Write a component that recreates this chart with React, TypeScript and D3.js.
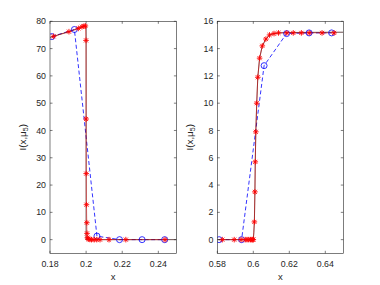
import React from "react";
import * as d3 from "d3";

// ---- Data ----
// Left panel (shock near x = 0.2)
const leftExactX = [0.18, 0.182, 0.1905, 0.1957, 0.1977, 0.1988, 0.1996, 0.2, 0.2, 0.25];
const leftExactY = [74.1, 74.5, 76.2, 77.4, 78.0, 78.2, 78.3, 78.3, 0, 0];

const leftAdaptX = [0.182, 0.1905, 0.1957, 0.1977, 0.1988, 0.1996, 0.19995, 0.2, 0.20005, 0.2002, 0.2004, 0.2005, 0.2007, 0.2012, 0.2021, 0.203, 0.2045, 0.2059, 0.2077, 0.2127, 0.222, 0.2437];
const leftAdaptY = [74.5, 76.2, 77.4, 78.0, 78.2, 78.3, 73.0, 44.2, 24.2, 12.8, 6.2, 2.3, 0.7, 0.2, 0.1, 0, 0, 0, 0, 0, 0, 0];

const leftCoarseX = [0.181, 0.1935, 0.206, 0.2185, 0.231, 0.2435];
const leftCoarseY = [74.4, 77.0, 1.3, 0.0, 0.0, 0.0];

// Right panel (rise near x = 0.6)
const rightExactX = [0.58, 0.6, 0.6003, 0.6006, 0.6009, 0.6011, 0.6014, 0.6019, 0.6025, 0.6035, 0.605, 0.607, 0.609, 0.6115, 0.614, 0.62, 0.65];
const rightExactY = [0, 0, 0.5, 1.3, 3.5, 5.7, 7.9, 10.0, 11.9, 13.3, 14.2, 14.7, 15.0, 15.1, 15.15, 15.18, 15.2];

const rightAdaptX = [0.5828, 0.5894, 0.5932, 0.5955, 0.5965, 0.5975, 0.5985, 0.5992, 0.5997, 0.6, 0.6006, 0.6009, 0.6011, 0.6014, 0.6019, 0.6025, 0.6035, 0.605, 0.607, 0.609, 0.6115, 0.614, 0.6186, 0.6222, 0.6267, 0.6311, 0.6382, 0.6449];
const rightAdaptY = [0, 0, 0, 0, 0, 0, 0, 0, 0, 0, 1.3, 3.5, 5.7, 7.9, 10.0, 11.9, 13.3, 14.2, 14.7, 15.0, 15.1, 15.15, 15.15, 15.15, 15.15, 15.15, 15.15, 15.15];

const rightCoarseX = [0.581, 0.5935, 0.606, 0.6185, 0.631, 0.6435];
const rightCoarseY = [0, 0, 12.75, 15.1, 15.15, 15.15];

const leftXTicks = [0.18, 0.2, 0.22, 0.24];
const leftYTicks = [0, 10, 20, 30, 40, 50, 60, 70, 80];
const rightXTicks = [0.58, 0.6, 0.62, 0.64];
const rightYTicks = [0, 2, 4, 6, 8, 10, 12, 14, 16];

const FONT = "'Liberation Sans', Arial, sans-serif";
const AX = "#262626";

const zip = (xs: number[], ys: number[]) => xs.map((x, i) => [x, ys[i]] as [number, number]);

const starPath = (s: number) => {
  const d = s * 0.72;
  return `M${-s},0H${s}M0,${-s}V${s}M${-d},${-d}L${d},${d}M${-d},${d}L${d},${-d}`;
};

type PanelProps = {
  id: string;
  left: number;
  right: number;
  top: number;
  bottom: number;
  xDomain: [number, number];
  yDomain: [number, number];
  xTicks: number[];
  yTicks: number[];
  exact: [number, number][];
  adapt: [number, number][];
  coarse: [number, number][];
};

function Panel(p: PanelProps) {
  const x = d3.scaleLinear().domain(p.xDomain).range([p.left, p.right]);
  const y = d3.scaleLinear().domain(p.yDomain).range([p.bottom, p.top]);
  const line = d3.line<[number, number]>().x((d) => x(d[0])).y((d) => y(d[1]));
  const tl = 2.5;
  const fmtX = (v: number) => String(+v.toFixed(2));
  const cy = (p.top + p.bottom) / 2;
  return (
    <g>
      <defs>
        <clipPath id={p.id}>
          <rect x={p.left} y={p.top - 4} width={p.right - p.left} height={p.bottom - p.top + 4} />
        </clipPath>
      </defs>
      <rect x={p.left} y={p.top} width={p.right - p.left} height={p.bottom - p.top} fill="#fff" />
      <g clipPath={`url(#${p.id})`}>
        <path d={line(p.coarse) || ""} fill="none" stroke="#0000ff" strokeWidth={0.8} strokeDasharray="4,2.5" />
        <path d={line(p.exact) || ""} fill="none" stroke="#2a0000" strokeWidth={0.7} />
        <path d={line(p.adapt) || ""} fill="none" stroke="#ff0000" strokeWidth={0.7} strokeOpacity={0.6} />
        {p.coarse.map((d, i) => (
          <circle key={"c" + i} cx={x(d[0])} cy={y(d[1])} r={3} fill="none" stroke="#0000ff" strokeWidth={0.8} />
        ))}
        {p.adapt.map((d, i) => (
          <path key={"s" + i} d={starPath(2.8)} transform={`translate(${x(d[0])},${y(d[1])})`} fill="none" stroke="#ff0000" strokeWidth={0.9} />
        ))}
      </g>
      {/* box */}
      <rect x={p.left} y={p.top} width={p.right - p.left} height={p.bottom - p.top} fill="none" stroke={AX} strokeWidth={0.6} />
      {p.xTicks.map((t) => (
        <g key={"xt" + t}>
          <line x1={x(t)} x2={x(t)} y1={p.bottom} y2={p.bottom - tl} stroke={AX} strokeWidth={0.6} />
          <line x1={x(t)} x2={x(t)} y1={p.top} y2={p.top + tl} stroke={AX} strokeWidth={0.6} />
          <text x={x(t)} y={p.bottom + 13.8} textAnchor="middle" fontSize={8.8} fontFamily={FONT} fill={AX}>
            {fmtX(t)}
          </text>
        </g>
      ))}
      {p.yTicks.map((t) => (
        <g key={"yt" + t}>
          <line x1={p.left} x2={p.left + tl} y1={y(t)} y2={y(t)} stroke={AX} strokeWidth={0.6} />
          <line x1={p.right} x2={p.right - tl} y1={y(t)} y2={y(t)} stroke={AX} strokeWidth={0.6} />
          <text x={p.left - 4} y={y(t) + 3.1} textAnchor="end" fontSize={8.8} fontFamily={FONT} fill={AX}>
            {t}
          </text>
        </g>
      ))}
      <text x={(p.left + p.right) / 2} y={279.5} textAnchor="middle" fontSize={9.5} fontFamily={FONT} fill={AX}>
        x
      </text>
      <text
        transform={`translate(${p.left - 24.5},${cy}) rotate(-90)`}
        textAnchor="middle"
        fontSize={9.8}
        fontFamily={FONT}
        fill={AX}
      >
        I(x,μ<tspan fontSize={7} dy={2.2}>5</tspan>
        <tspan dy={-2.2}>)</tspan>
      </text>
    </g>
  );
}

export default function App() {
  return (
    <svg
      width={380}
      height={285}
      style={{ position: "absolute", left: 0, top: 0, background: "#fff" }}
    >
      <rect width={380} height={285} fill="#fff" />
      <Panel
        id="clipL"
        left={50}
        right={176.4}
        top={21.3}
        bottom={253.3}
        xDomain={[0.18, 0.25]}
        yDomain={[-5, 80]}
        xTicks={leftXTicks}
        yTicks={leftYTicks}
        exact={zip(leftExactX, leftExactY)}
        adapt={zip(leftAdaptX, leftAdaptY)}
        coarse={zip(leftCoarseX, leftCoarseY)}
      />
      <Panel
        id="clipR"
        left={217.3}
        right={343.3}
        top={21.3}
        bottom={253.3}
        xDomain={[0.58, 0.65]}
        yDomain={[-1, 16]}
        xTicks={rightXTicks}
        yTicks={rightYTicks}
        exact={zip(rightExactX, rightExactY)}
        adapt={zip(rightAdaptX, rightAdaptY)}
        coarse={zip(rightCoarseX, rightCoarseY)}
      />
    </svg>
  );
}
